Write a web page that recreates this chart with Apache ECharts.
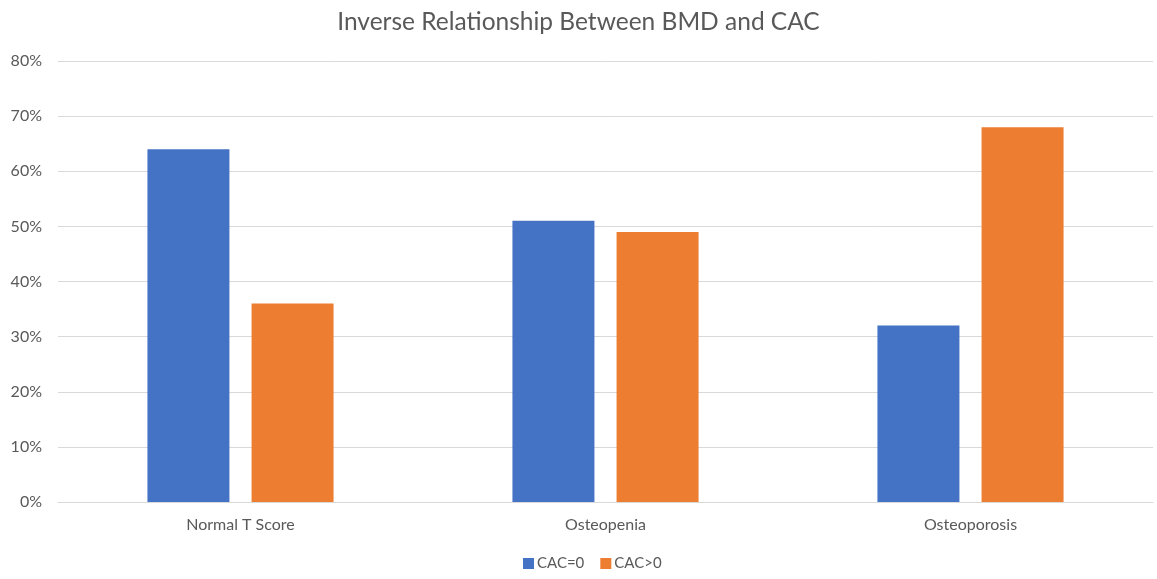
<!DOCTYPE html>
<html>
<head>
<meta charset="utf-8">
<script src="https://cdn.jsdelivr.net/npm/echarts@6/dist/echarts.min.js"></script>
<style>
  html, body { margin: 0; padding: 0; background: #fff; }
  #chart { width: 1157px; height: 579px; }
</style>
</head>
<body>
<div id="chart"></div>
<script>
// BMD category vs share of patients with / without coronary artery calcium
const categories = ['Normal T Score', 'Osteopenia', 'Osteoporosis'];
const cacZero = [64, 51, 32];      // CAC=0, percent
const cacPositive = [36, 49, 68];  // CAC>0, percent
const seriesNames = ['CAC=0', 'CAC>0'];
const colors = ['#4472C4', '#ED7D31'];

const font = 'Lato, "Open Sans", sans-serif';
const chart = echarts.init(document.getElementById('chart'));
chart.setOption({
  animation: false,
  title: {
    text: 'Inverse Relationship Between BMD and CAC',
    left: 'center',
    top: 5,
    textStyle: { fontFamily: font, fontSize: 24.5, fontWeight: 'normal', color: '#595959' }
  },
  legend: {
    data: seriesNames,
    bottom: 3,
    left: 518,
    itemWidth: 11,
    itemHeight: 11,
    itemGap: 16,
    icon: 'rect',
    textStyle: { fontFamily: font, fontSize: 15, color: '#595959', padding: [0, 0, 0, -2] }
  },
  grid: { left: 58, right: 4, top: 61, bottom: 77, containLabel: false },
  xAxis: {
    type: 'category',
    data: categories,
    axisTick: { show: false },
    axisLine: { lineStyle: { color: '#d9d9d9' } },
    axisLabel: { fontFamily: font, fontSize: 16, color: '#595959', margin: 15 }
  },
  yAxis: {
    type: 'value',
    min: 0,
    max: 80,
    interval: 10,
    axisLine: { show: false },
    axisTick: { show: false },
    splitLine: { lineStyle: { color: '#d9d9d9', width: 1 } },
    axisLabel: { formatter: '{value}%', fontFamily: font, fontSize: 16, color: '#595959', margin: 16 }
  },
  series: [
    { name: seriesNames[0], type: 'bar', data: cacZero, itemStyle: { color: colors[0] }, barWidth: 82, barGap: '27%' },
    { name: seriesNames[1], type: 'bar', data: cacPositive, itemStyle: { color: colors[1] }, barWidth: 82, barGap: '27%' }
  ]
});
</script>
</body>
</html>
